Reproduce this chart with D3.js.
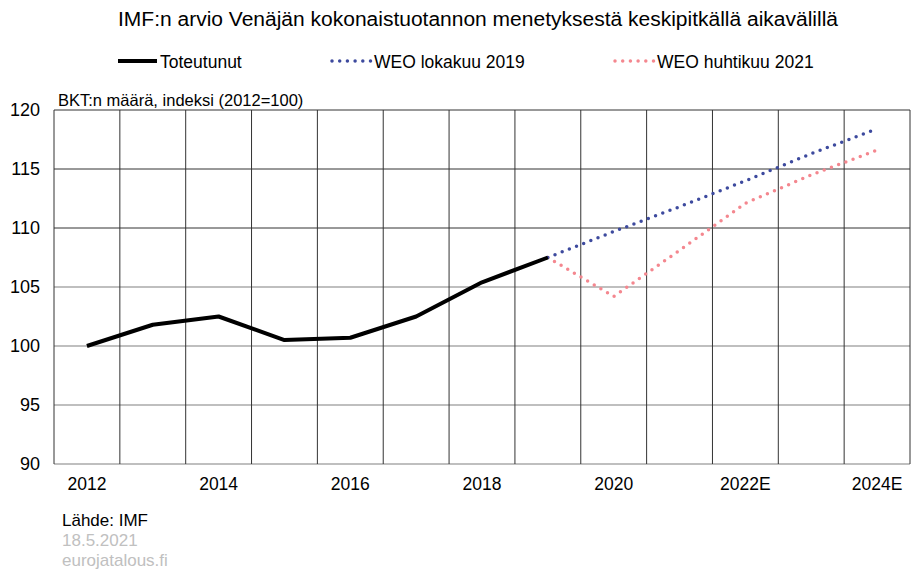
<!DOCTYPE html>
<html>
<head>
<meta charset="utf-8">
<script src="https://cdn.jsdelivr.net/npm/d3@7"></script>
<style>
  body { margin: 0; background: #fff; }
  text { font-family: "Liberation Sans", Arial, sans-serif; }
</style>
</head>
<body>
<div id="chart"></div>
<script>
// Data
var years = ["2012", "2013", "2014", "2015", "2016", "2017", "2018", "2019", "2020", "2021", "2022E", "2023E", "2024E"];
var shownYears = ["2012", "2014", "2016", "2018", "2020", "2022E", "2024E"];
var actual = [100, 101.8, 102.5, 100.5, 100.7, 102.5, 105.4, 107.5];
var weo2019 = [107.5, 109.7, 111.8, 114.0, 116.3, 118.4];
var weo2021 = [107.5, 104.2, 108.1, 112.1, 114.5, 116.6];
var yTicks = [90, 95, 100, 105, 110, 115, 120];

var svgWidth = 911;
var svgHeight = 570;
var margin = { top: 110, right: 1, bottom: 106, left: 54 };
var width = svgWidth - margin.left - margin.right;
var height = svgHeight - margin.top - margin.bottom;

var svg = d3.select("#chart")
  .append("svg")
  .attr("width", svgWidth)
  .attr("height", svgHeight);

// Title
svg.append("text")
  .attr("x", 478)
  .attr("y", 26)
  .attr("text-anchor", "middle")
  .attr("font-size", "20px")
  .attr("textLength", 720)
  .attr("lengthAdjust", "spacingAndGlyphs")
  .attr("fill", "#000")
  .text("IMF:n arvio Venäjän kokonaistuotannon menetyksestä keskipitkällä aikavälillä");

var chartGroup = svg.append("g")
  .attr("transform", `translate(${margin.left}, ${margin.top})`);

// Scales
var xScale = d3.scaleBand()
  .domain(years)
  .range([0, width]);

var yScale = d3.scaleLinear()
  .domain([90, 120])
  .range([height, 0]);

var xc = d => xScale(d) + xScale.bandwidth() / 2;

// Horizontal gridlines
chartGroup.selectAll(".hgrid")
  .data(yTicks)
  .enter()
  .append("line")
  .attr("x1", 0)
  .attr("x2", width)
  .attr("y1", d => yScale(d))
  .attr("y2", d => yScale(d))
  .attr("stroke", d => d >= 110 ? "#333" : "#aaa")
  .attr("stroke-width", d => d >= 110 ? 1 : 1.5);

// Vertical gridlines on band edges
var edges = years.map(d => xScale(d)).concat([width]);
chartGroup.selectAll(".vgrid")
  .data(edges)
  .enter()
  .append("line")
  .attr("x1", d => d)
  .attr("x2", d => d)
  .attr("y1", 0)
  .attr("y2", height)
  .attr("stroke", "#333")
  .attr("stroke-width", 1);

// Axes (labels only)
var leftAxis = d3.axisLeft(yScale).tickValues(yTicks).tickSize(0).tickPadding(14);
chartGroup.append("g")
  .call(leftAxis)
  .call(g => g.select(".domain").remove())
  .selectAll("text")
  .attr("font-size", "18px")
  .attr("font-family", "Liberation Sans, Arial, sans-serif")
  .attr("fill", "#000");

var bottomAxis = d3.axisBottom(xScale).tickValues(shownYears).tickSize(0).tickPadding(14);
chartGroup.append("g")
  .attr("transform", `translate(0, ${height})`)
  .call(bottomAxis)
  .call(g => g.select(".domain").remove())
  .selectAll("text")
  .attr("font-size", "17.5px")
  .attr("font-family", "Liberation Sans, Arial, sans-serif")
  .attr("fill", "#000");

// Axis title
chartGroup.append("text")
  .attr("x", 4)
  .attr("y", -4)
  .attr("font-size", "16.5px")
  .text("BKT:n määrä, indeksi (2012=100)");

// Lines
var line = d3.line()
  .x(d => xc(d.year))
  .y(d => yScale(d.value));

var actualData = actual.map((v, i) => ({ year: years[i], value: v }));
var weo19Data = weo2019.map((v, i) => ({ year: years[i + 7], value: v }));
var weo21Data = weo2021.map((v, i) => ({ year: years[i + 7], value: v }));

chartGroup.append("path")
  .datum(weo21Data)
  .attr("d", line)
  .attr("fill", "none")
  .attr("stroke", "#f4878f")
  .attr("stroke-width", 3.5)
  .attr("stroke-linecap", "round")
  .attr("stroke-dasharray", "0 7.7");

chartGroup.append("path")
  .datum(weo19Data)
  .attr("d", line)
  .attr("fill", "none")
  .attr("stroke", "#3d4a9e")
  .attr("stroke-width", 3.5)
  .attr("stroke-linecap", "round")
  .attr("stroke-dasharray", "0 7.7");

chartGroup.append("path")
  .datum(actualData)
  .attr("d", line)
  .attr("fill", "none")
  .attr("stroke", "#000")
  .attr("stroke-width", 4)
  .attr("stroke-linejoin", "round");

// Legend
var legendItems = [
  { label: "Toteutunut", x: 118, color: "#000", dash: null, w: 4 },
  { label: "WEO lokakuu 2019", x: 332, color: "#3d4a9e", dash: "0 7.7", w: 3.5 },
  { label: "WEO huhtikuu 2021", x: 615, color: "#f4878f", dash: "0 7.7", w: 3.5 }
];
var legend = svg.selectAll(".legend")
  .data(legendItems)
  .enter()
  .append("g")
  .attr("transform", d => `translate(${d.x}, 61)`);

legend.append("line")
  .attr("x1", 0)
  .attr("x2", 39)
  .attr("y1", 0)
  .attr("y2", 0)
  .attr("stroke", d => d.color)
  .attr("stroke-width", d => d.w)
  .attr("stroke-linecap", d => d.dash ? "round" : "butt")
  .attr("stroke-dasharray", d => d.dash);

legend.append("text")
  .attr("x", 42)
  .attr("y", 6.5)
  .attr("font-size", "17.5px")
  .text(d => d.label);

// Footer
svg.append("text")
  .attr("x", 62)
  .attr("y", 526)
  .attr("font-size", "17px")
  .attr("fill", "#000")
  .text("Lähde: IMF");

svg.append("text")
  .attr("x", 62)
  .attr("y", 546)
  .attr("font-size", "17px")
  .attr("fill", "#c0c0c0")
  .text("18.5.2021");

svg.append("text")
  .attr("x", 62)
  .attr("y", 566)
  .attr("font-size", "17px")
  .attr("fill", "#c0c0c0")
  .text("eurojatalous.fi");
</script>
</body>
</html>
